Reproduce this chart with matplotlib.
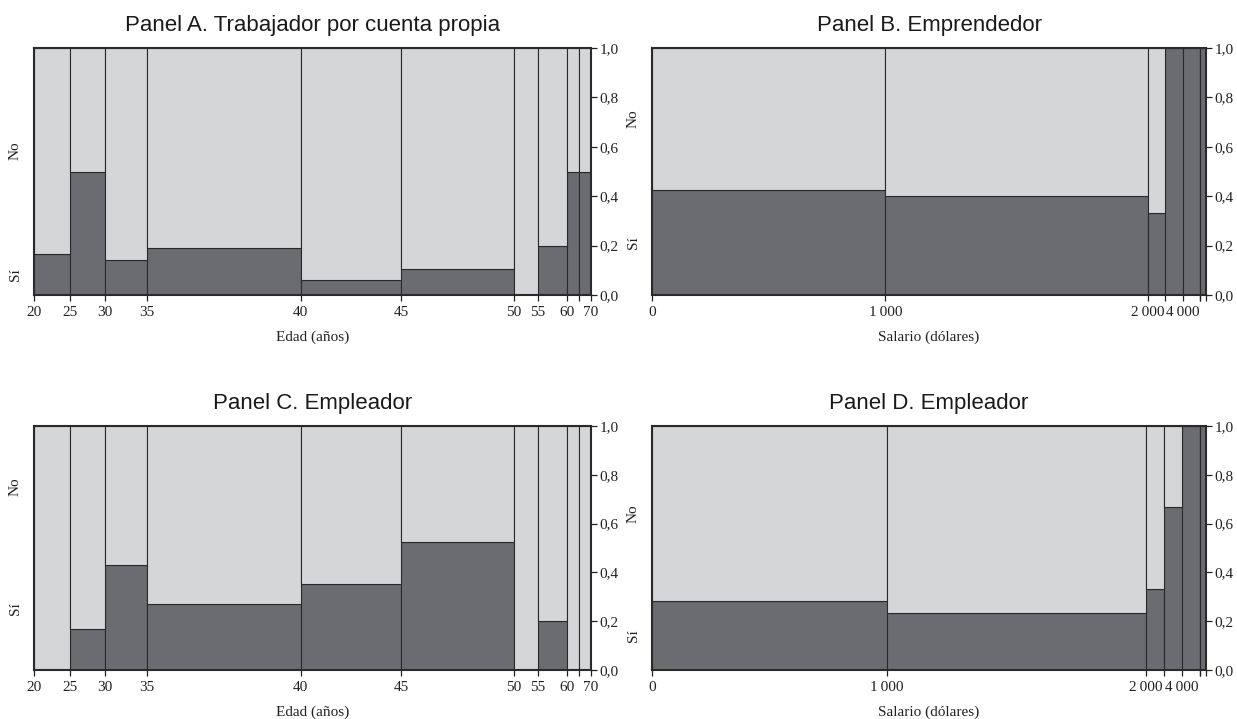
import matplotlib
matplotlib.use("Agg")
import matplotlib.pyplot as plt
import matplotlib.transforms as mtransforms
import numpy as np

plt.rcParams['font.family'] = ['Liberation Serif', 'DejaVu Serif']

# Edad (años): intervalos y conteos
edad_labels = ['20', '25', '30', '35', '40', '45', '50', '55', '60', '', '70']
edad_n = [6, 6, 7, 26, 17, 19, 4, 5, 2, 2]
cuenta_propia_si = [1, 3, 1, 5, 1, 2, 0, 1, 1, 1]
empleador_edad_si = [0, 1, 3, 7, 6, 10, 0, 1, 0, 0]

# Salario (dólares): intervalos y conteos
salario_labels = ['0', '1\u2009000', '2\u2009000', '', '4\u2009000', '', '', '']
emprendedor_n = [40, 45, 3, 3, 3, 0, 1]
emprendedor_si = [17, 18, 1, 3, 3, 0, 1]
empleador_sal_n = [39, 43, 3, 3, 3, 0, 1]
empleador_sal_si = [11, 10, 1, 2, 3, 0, 1]

y_levels = ['Sí', 'No']
y_ticks = [0.0, 0.2, 0.4, 0.6, 0.8, 1.0]

LIGHT = '#d5d6d8'
DARK = '#6b6c70'
EDGE = '#2a2a2a'


def spineplot(ax, n, si, labels, title, xlabel):
    n = np.array(n, dtype=float)
    si = np.array(si, dtype=float)
    widths = n / n.sum()
    lefts = np.concatenate([[0], np.cumsum(widths)[:-1]])
    p = np.divide(si, n, out=np.zeros_like(si), where=n > 0)

    ax.bar(lefts, p, widths, align='edge', color=DARK, edgecolor=EDGE, linewidth=0.8)
    ax.bar(lefts, 1 - p, widths, bottom=p, align='edge', color=LIGHT,
           edgecolor=EDGE, linewidth=0.8)

    ax.set_xlim(0, 1)
    ax.set_ylim(0, 1)
    breaks = np.concatenate([[0], np.cumsum(widths)])
    ax.set_xticks(breaks)
    ax.set_xticklabels(labels)
    ax.yaxis.tick_right()
    ax.set_yticks(y_ticks)
    ax.set_yticklabels([f'{v:.1f}'.replace('.', ',') for v in y_ticks])
    ax.tick_params(axis='both', direction='out', length=4.5, width=0.9,
                   labelsize=11, colors='#222222', pad=1.5)
    ax.tick_params(axis='x', pad=3.5)
    for s in ax.spines.values():
        s.set_linewidth(1.5)
        s.set_color(EDGE)

    # etiquetas Sí / No en el centro de la primera columna
    p0 = p[0]
    if 0 < p0 < 1:
        ypos = [p0 / 2, (1 + p0) / 2]
    else:
        ypos = [0.25, 0.75]
    trans = mtransforms.blended_transform_factory(ax.transAxes, ax.transData)
    for lab, yy in zip(y_levels, ypos):
        ax.text(-0.034, yy, lab, rotation=90, transform=trans, ha='center',
                va='center', fontsize=11, color='#222222')

    ax.set_title(title, family='Liberation Sans', fontsize=16, pad=12,
                 color='#1a1a1a')
    ax.set_xlabel(xlabel, fontsize=11, labelpad=8, color='#222222')


fig = plt.figure(figsize=(12.37, 7.19), dpi=100)
axA = fig.add_axes([0.0275, 0.5897, 0.4503, 0.3435])
axB = fig.add_axes([0.5271, 0.5897, 0.4479, 0.3435])
axC = fig.add_axes([0.0275, 0.0681, 0.4503, 0.3394])
axD = fig.add_axes([0.5271, 0.0681, 0.4479, 0.3394])

spineplot(axA, edad_n, cuenta_propia_si, edad_labels,
          'Panel A. Trabajador por cuenta propia', 'Edad (años)')
spineplot(axB, emprendedor_n, emprendedor_si, salario_labels,
          'Panel B. Emprendedor', 'Salario (dólares)')
spineplot(axC, edad_n, empleador_edad_si, edad_labels,
          'Panel C. Empleador', 'Edad (años)')
spineplot(axD, empleador_sal_n, empleador_sal_si, salario_labels,
          'Panel D. Empleador', 'Salario (dólares)')

fig.savefig('out.png', dpi=100)
